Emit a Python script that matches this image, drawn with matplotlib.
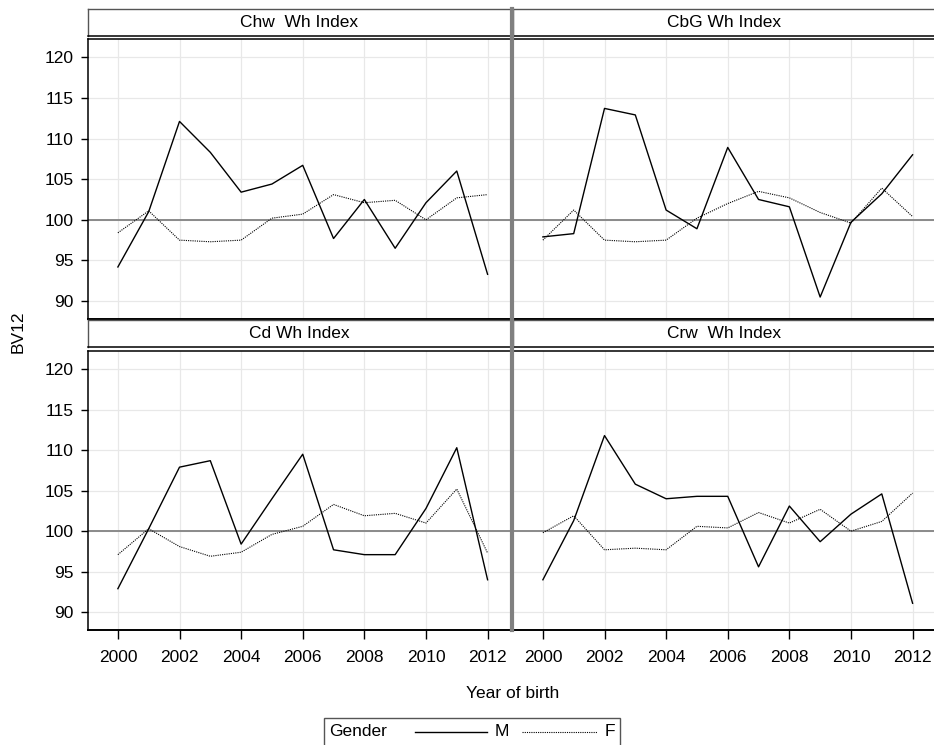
import matplotlib
matplotlib.use('Agg')
import matplotlib.pyplot as plt
from matplotlib.lines import Line2D
from matplotlib.patches import Rectangle

plt.rcParams['font.family'] = ['Liberation Sans', 'DejaVu Sans']

years = list(range(2000, 2013))

panel_titles = ['Chw  Wh Index', 'CbG Wh Index', 'Cd Wh Index', 'Crw  Wh Index']

chw_m = [94.2, 101.0, 112.1, 108.3, 103.4, 104.4, 106.7, 97.7, 102.5, 96.5, 102.1, 106.0, 93.3]
chw_f = [98.4, 101.1, 97.5, 97.3, 97.5, 100.2, 100.7, 103.1, 102.1, 102.4, 100.0, 102.7, 103.1]

cbg_m = [97.9, 98.3, 113.7, 112.9, 101.2, 98.9, 108.9, 102.5, 101.6, 90.5, 99.7, 103.2, 108.0]
cbg_f = [97.5, 101.2, 97.5, 97.3, 97.5, 100.2, 102.0, 103.5, 102.7, 100.9, 99.6, 103.9, 100.4]

cd_m = [92.9, 100.3, 107.9, 108.7, 98.4, 104.0, 109.5, 97.7, 97.1, 97.1, 102.8, 110.3, 94.0]
cd_f = [97.1, 100.3, 98.1, 96.9, 97.4, 99.6, 100.6, 103.3, 101.9, 102.2, 101.0, 105.2, 97.3]

crw_m = [94.0, 101.3, 111.8, 105.8, 104.0, 104.3, 104.3, 95.6, 103.1, 98.7, 102.1, 104.6, 91.1]
crw_f = [99.8, 101.9, 97.7, 97.9, 97.7, 100.6, 100.4, 102.3, 101.0, 102.7, 100.0, 101.2, 104.7]

series = [(chw_m, chw_f), (cbg_m, cbg_f), (cd_m, cd_f), (crw_m, crw_f)]

y_ticks = [90, 95, 100, 105, 110, 115, 120]
x_ticks = [2000, 2002, 2004, 2006, 2008, 2010, 2012]

W, H = 934, 745


def fx(px):
    return px / W


def fy(px):
    return 1 - px / H


def main():
    fig = plt.figure(figsize=(9.34, 7.45), dpi=100)

    col_x = [88, 513]
    panel_w = 423
    # (strip top, strip bottom, plot top, plot bottom) in pixels
    rows = [(9, 35.5, 38.5, 319), (320, 347.5, 350.5, 630)]

    for i, (m_vals, f_vals) in enumerate(series):
        r, c = divmod(i, 2)
        st, sb, pt, pb = rows[r]
        x0 = col_x[c]

        ax = fig.add_axes([fx(x0), fy(pb), panel_w / W, (pb - pt) / H])
        ax.set_xlim(1999.03, 2012.76)
        ax.set_ylim(87.8, 122.3)
        ax.set_yticks(y_ticks)
        ax.set_xticks(x_ticks)
        ax.grid(color='#e8e8e8', linewidth=0.9)
        ax.set_axisbelow(True)
        ax.axhline(100, color='#8a8a8a', linewidth=1.4, zorder=1)

        ax.plot(years, m_vals, color='black', linewidth=1.0, zorder=3)
        ax.plot(years, f_vals, color='black', linewidth=0.8,
                linestyle=(0, (1, 1)), zorder=3)

        for s in ax.spines.values():
            s.set_color('black')
            s.set_linewidth(1.1)
        ax.spines['bottom'].set_linewidth(1.4)
        if c == 1:
            ax.spines['right'].set_visible(False)

        ax.tick_params(axis='y', length=5, width=1, pad=5.5, labelsize=12.5)
        ax.tick_params(axis='x', length=6.5, width=1, pad=8, labelsize=12.5)
        if c == 1:
            ax.tick_params(axis='y', left=False, labelleft=False)
        if r == 0:
            ax.tick_params(axis='x', bottom=False, labelbottom=False)

        # strip with panel title
        sax = fig.add_axes([fx(x0), fy(sb), panel_w / W, (sb - st) / H])
        sax.set_xticks([])
        sax.set_yticks([])
        for s in sax.spines.values():
            s.set_color('#555555')
            s.set_linewidth(1.0)
        sax.spines['bottom'].set_color('black')
        sax.spines['bottom'].set_linewidth(1.1)
        if c == 1:
            sax.spines['right'].set_visible(False)
        sax.text(0.5, 0.5, panel_titles[i], ha='center', va='center',
                 fontsize=12.5, transform=sax.transAxes)

    # gray divider between the two columns
    fig.add_artist(Line2D([fx(511.5), fx(511.5)], [fy(9), fy(630)],
                          color='#808080', linewidth=3))

    fig.text(fx(18), fy(332), 'BV12', rotation=90, ha='center', va='center',
             fontsize=12.5)
    fig.text(fx(513), fy(693), 'Year of birth', ha='center', va='center',
             fontsize=12.5)

    # legend box
    fig.add_artist(Rectangle((fx(324), fy(752)), 296 / W, 34 / H,
                             transform=fig.transFigure, fill=False,
                             edgecolor='#555555', linewidth=1.0))
    ly = fy(732)
    fig.text(fx(329), ly, 'Gender', ha='left', va='center', fontsize=12.5)
    fig.add_artist(Line2D([fx(415), fx(487)], [ly, ly], color='black',
                          linewidth=1.0))
    fig.text(fx(495), ly, 'M', ha='left', va='center', fontsize=12.5)
    fig.add_artist(Line2D([fx(522), fx(597)], [ly, ly], color='black',
                          linewidth=0.8, linestyle=(0, (1, 1))))
    fig.text(fx(605), ly, 'F', ha='left', va='center', fontsize=12.5)

    fig.savefig('out.png', dpi=100)


if __name__ == '__main__':
    main()
